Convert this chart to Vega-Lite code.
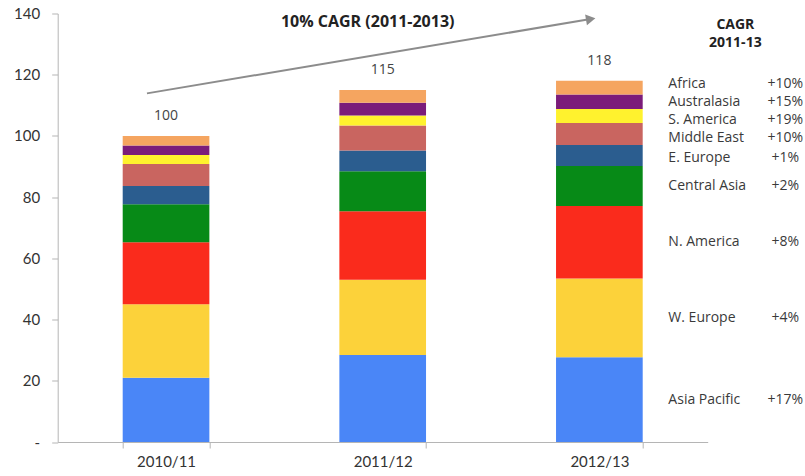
{
  "$schema": "https://vega.github.io/schema/vega-lite/v6.json",
  "width": 650,
  "height": 428.5,
  "autosize": {"type": "none"},
  "padding": {"left": 57.7, "top": 13.5, "right": 97.3, "bottom": 34},
  "background": "white",
  "config": {"view": {"stroke": null}, "font": "Open Sans"},
  "datasets": {
    "regions": [
      {"region": "Asia Pacific", "cagr": "+17%", "rank": 1},
      {"region": "W. Europe", "cagr": "+4%", "rank": 2},
      {"region": "N. America", "cagr": "+8%", "rank": 3},
      {"region": "Central Asia", "cagr": "+2%", "rank": 4},
      {"region": "E. Europe", "cagr": "+1%", "rank": 5},
      {"region": "Middle East", "cagr": "+10%", "rank": 6},
      {"region": "S. America", "cagr": "+19%", "rank": 7},
      {"region": "Australasia", "cagr": "+15%", "rank": 8},
      {"region": "Africa", "cagr": "+10%", "rank": 9}
    ]
  },
  "data": {
    "values": [
      {"year": "2010/11", "region": "Asia Pacific", "value": 21.0},
      {"year": "2010/11", "region": "W. Europe", "value": 24.0},
      {"year": "2010/11", "region": "N. America", "value": 20.3},
      {"year": "2010/11", "region": "Central Asia", "value": 12.4},
      {"year": "2010/11", "region": "E. Europe", "value": 5.9},
      {"year": "2010/11", "region": "Middle East", "value": 7.2},
      {"year": "2010/11", "region": "S. America", "value": 3.0},
      {"year": "2010/11", "region": "Australasia", "value": 3.1},
      {"year": "2010/11", "region": "Africa", "value": 3.1},
      {"year": "2011/12", "region": "Asia Pacific", "value": 28.4},
      {"year": "2011/12", "region": "W. Europe", "value": 24.6},
      {"year": "2011/12", "region": "N. America", "value": 22.4},
      {"year": "2011/12", "region": "Central Asia", "value": 13.1},
      {"year": "2011/12", "region": "E. Europe", "value": 6.7},
      {"year": "2011/12", "region": "Middle East", "value": 8.2},
      {"year": "2011/12", "region": "S. America", "value": 3.3},
      {"year": "2011/12", "region": "Australasia", "value": 4.1},
      {"year": "2011/12", "region": "Africa", "value": 4.2},
      {"year": "2012/13", "region": "Asia Pacific", "value": 27.7},
      {"year": "2012/13", "region": "W. Europe", "value": 25.7},
      {"year": "2012/13", "region": "N. America", "value": 23.7},
      {"year": "2012/13", "region": "Central Asia", "value": 13.1},
      {"year": "2012/13", "region": "E. Europe", "value": 6.8},
      {"year": "2012/13", "region": "Middle East", "value": 7.2},
      {"year": "2012/13", "region": "S. America", "value": 4.6},
      {"year": "2012/13", "region": "Australasia", "value": 4.7},
      {"year": "2012/13", "region": "Africa", "value": 4.5}
    ]
  },
  "encoding": {
    "x": {
      "field": "year",
      "type": "nominal",
      "scale": {"paddingInner": 0.6, "paddingOuter": 0.3},
      "axis": {
        "title": null,
        "labelAngle": 0,
        "tickBand": "extent",
        "domainColor": "#b5b5b5",
        "tickColor": "#b5b5b5",
        "tickSize": 6,
        "labelFont": "Lato",
        "labelFontSize": 15,
        "labelColor": "#333333",
        "labelPadding": 6
      }
    }
  },
  "layer": [
    {
      "transform": [
        {"lookup": "region", "from": {"data": {"name": "regions"}, "key": "region", "fields": ["rank"]}}
      ],
      "mark": {"type": "bar"},
      "encoding": {
        "y": {
          "aggregate": "sum",
          "field": "value",
          "type": "quantitative",
          "scale": {"domain": [0, 140]},
          "axis": {
            "title": null,
            "values": [0, 20, 40, 60, 80, 100, 120, 140],
            "labelExpr": "datum.value === 0 ? '-' : datum.label",
            "grid": false,
            "domainColor": "#b5b5b5",
            "tickColor": "#b5b5b5",
            "tickSize": 6,
            "labelPadding": 12,
            "labelFont": "Lato",
            "labelFontSize": 15,
            "labelColor": "#333333"
          }
        },
        "color": {
          "field": "region",
          "type": "nominal",
          "legend": null,
          "scale": {
            "domain": ["Asia Pacific", "W. Europe", "N. America", "Central Asia", "E. Europe", "Middle East", "S. America", "Australasia", "Africa"],
            "range": ["#4A86F7", "#FCD23A", "#FA2B1C", "#078A17", "#2B5D8F", "#C96560", "#FFF22E", "#7B1C7A", "#F5A560"]
          }
        },
        "order": {"field": "rank", "type": "quantitative", "sort": "ascending"}
      }
    },
    {
      "mark": {"type": "text", "dy": -20, "fontSize": 14, "color": "#444444", "baseline": "middle"},
      "encoding": {
        "y": {"aggregate": "sum", "field": "value", "type": "quantitative"},
        "text": {"aggregate": "sum", "field": "value", "type": "quantitative", "format": ".0f"}
      }
    },
    {
      "transform": [
        {"filter": "datum.year === '2012/13'"},
        {"lookup": "region", "from": {"data": {"name": "regions"}, "key": "region", "fields": ["cagr", "rank"]}},
        {"stack": "value", "groupby": ["year"], "sort": [{"field": "rank", "order": "ascending"}], "as": ["lo", "hi"]},
        {"calculate": "(datum.lo + datum.hi) / 2 - datum.rank * 5.9", "as": "k"},
        {"window": [{"op": "min", "field": "k", "as": "kDown"}], "sort": [{"field": "rank", "order": "descending"}], "frame": [null, 0]},
        {"window": [{"op": "max", "field": "k", "as": "kUp"}], "sort": [{"field": "rank", "order": "ascending"}], "frame": [null, 0]},
        {"calculate": "(datum.kDown + datum.kUp) / 2 + datum.rank * 5.9", "as": "labelPos"}
      ],
      "encoding": {
        "y": {"field": "labelPos", "type": "quantitative"}
      },
      "layer": [
        {
          "mark": {"type": "text", "align": "left", "baseline": "middle", "dx": 69, "fontSize": 14, "color": "#3a3a3a"},
          "encoding": {"text": {"field": "region", "type": "nominal"}}
        },
        {
          "mark": {"type": "text", "align": "center", "baseline": "middle", "dx": 186, "fontSize": 14, "color": "#3a3a3a"},
          "encoding": {"text": {"field": "cagr", "type": "nominal"}}
        }
      ]
    },
    {
      "data": {"values": [{}]},
      "mark": {"type": "rule", "color": "#8c8c8c", "strokeWidth": 2},
      "encoding": {
        "x": {"datum": "2010/11", "bandPosition": 0.28},
        "x2": {"datum": "2012/13", "bandPosition": 0.4},
        "y": {"datum": 113.9},
        "y2": {"datum": 138.2}
      }
    },
    {
      "data": {"values": [{}]},
      "mark": {"type": "point", "shape": "triangle-right", "filled": true, "color": "#8c8c8c", "opacity": 1, "size": 120, "angle": -9.5},
      "encoding": {
        "x": {"datum": "2012/13", "bandPosition": 0.4},
        "y": {"datum": 138.2}
      }
    },
    {
      "data": {"values": [{}]},
      "mark": {"type": "text", "text": "10% CAGR (2011-2013)", "fontSize": 16, "fontWeight": "bold", "color": "#222222", "dx": -15, "baseline": "middle", "align": "center"},
      "encoding": {
        "x": {"datum": "2011/12"},
        "y": {"datum": 137.3}
      }
    },
    {
      "data": {"values": [{}]},
      "mark": {"type": "text", "text": "CAGR", "fontSize": 14, "fontWeight": "bold", "color": "#222222", "dx": 136, "baseline": "middle", "align": "center"},
      "encoding": {
        "x": {"datum": "2012/13"},
        "y": {"datum": 136.3}
      }
    },
    {
      "data": {"values": [{}]},
      "mark": {"type": "text", "text": "2011-13", "fontSize": 14, "fontWeight": "bold", "color": "#222222", "dx": 136, "baseline": "middle", "align": "center"},
      "encoding": {
        "x": {"datum": "2012/13"},
        "y": {"datum": 130.5}
      }
    }
  ]
}
